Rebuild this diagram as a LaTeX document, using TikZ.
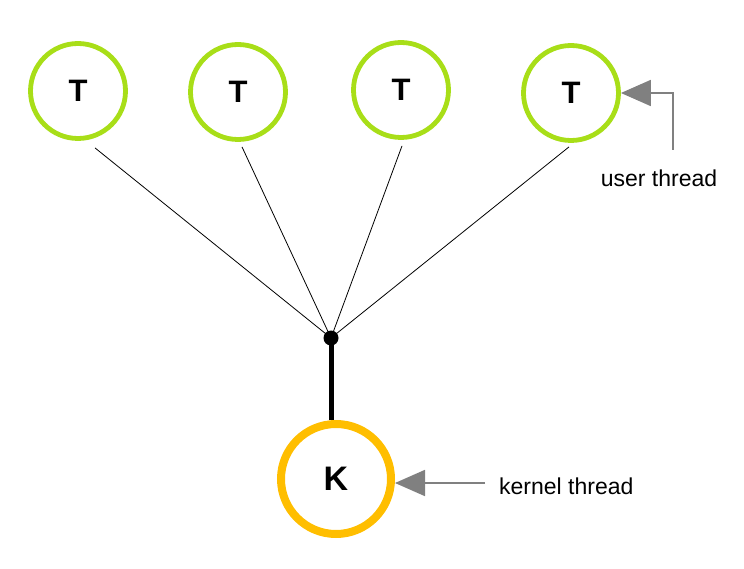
\documentclass[tikz,border=0pt]{standalone}
\usepackage{fontspec}
\setmainfont{Liberation Sans}
\usetikzlibrary{arrows.meta,calc}
\definecolor{tgreen}{RGB}{168,222,24}
\definecolor{korange}{RGB}{255,190,0}
\definecolor{agray}{RGB}{128,128,128}
\begin{document}
\begin{tikzpicture}[x=1pt,y=-1pt,
  uthread/.style={circle, draw=tgreen, line width=4.8pt, minimum size=95pt, inner sep=0pt,
    font=\fontsize{31}{31}\selectfont\bfseries},
  kthread/.style={circle, draw=korange, line width=8pt, minimum size=110pt, inner sep=0pt,
    font=\fontsize{34}{34}\selectfont\bfseries},
  junction/.style={circle, fill=black, minimum size=15pt, inner sep=0pt},
  thin link/.style={draw=black, line width=0.8pt},
  thick link/.style={draw=black, line width=5pt},
  pointer/.style={draw=agray, line width=1.8pt, -{Triangle[length=30pt,width=26pt,fill=agray]}},
  label text/.style={font=\fontsize{23}{23}\selectfont, inner sep=0pt}
]
\useasboundingbox (0,0) rectangle (744,569);
\node[uthread] (t1) at (78,91) {T};
\node[uthread] (t2) at (238,92) {T};
\node[uthread] (t3) at (401,90) {T};
\node[uthread] (t4) at (571,93) {T};
\node[junction] (j) at (331,338) {};
\node[kthread] (k) at (336,479) {K};
\node[label text] (ul) at (659,178) {user thread};
\node[label text, anchor=west] (kl) at (499,486) {kernel thread};
\coordinate (ua) at (673,150);
\coordinate (ka) at (485,483);

\draw[thin link] ($(t1.south)+(17,7)$) -- (j.center);
\draw[thin link] ($(t2.south)+(4,5)$) -- (j.center);
\draw[thin link] ($(t3.south)+(1,6)$) -- (j.center);
\draw[thin link] ($(t4.south)+(-2,4)$) -- (j.center);
\draw[thick link] (j.center) -- (j.center |- k.north);
\draw[pointer] (ua) |- (t4.east);
\draw[pointer] (ka) -- (ka -| k.east);
\end{tikzpicture}
\end{document}
